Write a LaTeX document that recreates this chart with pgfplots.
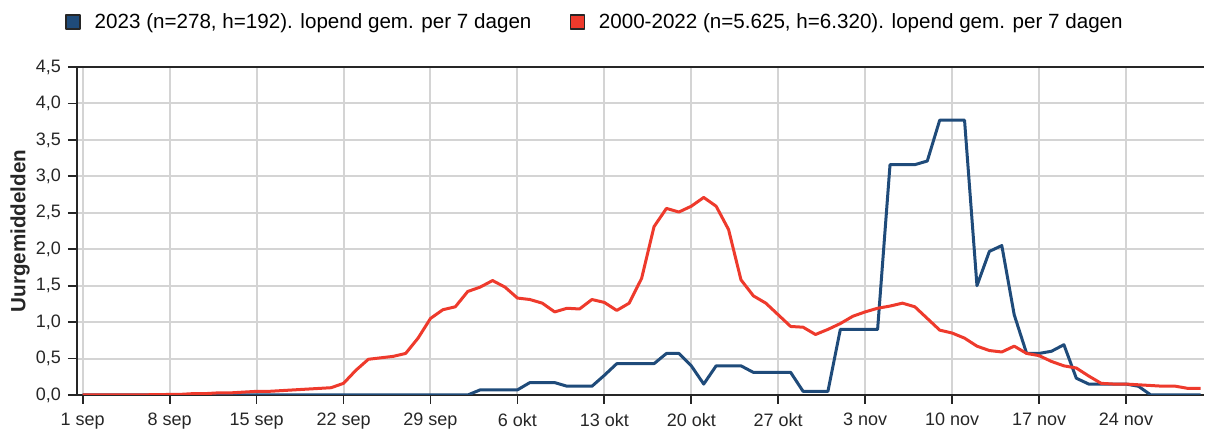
\documentclass[border=0pt]{standalone}
\usepackage{pgfplots}
\pgfplotsset{compat=1.18}
\usepackage{fontspec}
\setmainfont{Liberation Sans}
\definecolor{lijn23}{HTML}{1F4B7A}
\definecolor{lijn00}{HTML}{EE3A2C}
\definecolor{raster}{HTML}{D4D4D4}
\definecolor{tekst}{HTML}{262626}

% dag 0 = 1 sep
\pgfplotstableread{
d v
0 0
31 0
32 0.07
35 0.07
36 0.17
38 0.17
39 0.12
41 0.12
42 0.27
43 0.43
46 0.43
47 0.57
48 0.57
49 0.40
50 0.15
51 0.40
53 0.40
54 0.31
57 0.31
58 0.05
60 0.05
61 0.90
64 0.90
65 3.16
67 3.16
68 3.21
69 3.77
71 3.77
72 1.50
73 1.97
74 2.05
75 1.10
76 0.57
77 0.57
78 0.60
79 0.69
80 0.23
81 0.15
84 0.15
85 0.12
86 0.00
90 0.00
}\jaar

\pgfplotstableread{
d v
0 0.00
4 0.00
8 0.01
9 0.02
10 0.02
11 0.03
12 0.03
13 0.04
14 0.05
15 0.05
16 0.06
17 0.07
18 0.08
19 0.09
20 0.10
21 0.16
22 0.34
23 0.49
24 0.51
25 0.53
26 0.57
27 0.78
28 1.05
29 1.17
30 1.21
31 1.42
32 1.48
33 1.57
34 1.48
35 1.33
36 1.31
37 1.26
38 1.14
39 1.19
40 1.18
41 1.31
42 1.27
43 1.16
44 1.26
45 1.60
46 2.31
47 2.56
48 2.51
49 2.59
50 2.71
51 2.59
52 2.27
53 1.58
54 1.36
55 1.26
56 1.10
57 0.94
58 0.93
59 0.83
60 0.90
61 0.98
62 1.08
63 1.14
64 1.19
65 1.22
66 1.26
67 1.21
68 1.05
69 0.89
70 0.85
71 0.78
72 0.67
73 0.61
74 0.59
75 0.67
76 0.57
77 0.54
78 0.46
79 0.40
80 0.37
81 0.26
82 0.16
83 0.15
84 0.15
85 0.14
86 0.13
87 0.12
88 0.12
89 0.09
90 0.09
}\gemiddeld

\begin{document}
\begin{tikzpicture}
\begin{axis}[
  name=ax,
  scale only axis,
  width=563.5pt, height=164pt,
  font=\fontsize{9}{11}\selectfont,
  xmin=-0.46, xmax=90.28,
  ymin=0, ymax=4.5,
  axis x line=box,
  axis y line*=left,
  axis line style={tekst, line width=1pt},
  xtick pos=lower, ytick pos=left,
  tick align=outside,
  major tick length=4.5pt,
  tick style={tekst, line width=0.9pt},
  xtick={0,7,...,84},
  xticklabels={1 sep,8 sep,15 sep,22 sep,29 sep,6 okt,13 okt,20 okt,27 okt,3 nov,10 nov,17 nov,24 nov},
  ytick={0,0.5,...,4.5},
  yticklabel style={/pgf/number format/.cd, fixed, fixed zerofill, precision=1, use comma, assume math mode=true},
  ticklabel style={tekst},
  xticklabel style={yshift=-1pt},
  grid=major,
  grid style={raster, line width=1pt},
  ylabel={\bfseries Uurgemiddelden},
  ylabel style={at={(axis description cs:-0.0506,0.5)}, anchor=center, tekst,
    font=\fontsize{10.3}{12}\selectfont},
  legend columns=2,
  legend style={
    at={(axis description cs:-0.0107,1.137)}, anchor=west,
    draw=none, fill=none, inner sep=0pt,
    font=\fontsize{10.3}{12}\selectfont,
    /tikz/every odd column/.append style={column sep=5pt},
    /tikz/every even column/.append style={column sep=17pt},
  },
  legend cell align=left,
]
\addplot[lijn23, line width=1.5pt, line join=round,
  legend image code/.code={\draw[fill=lijn23, draw=tekst, line width=0.7pt] (0pt,-3.5pt) rectangle (7pt,3.5pt);}]
  table[x=d, y=v] {\jaar};
\addlegendentry{2023 (n=278, h=192). lopend gem. per 7 dagen}
\addplot[lijn00, line width=1.5pt, line join=round,
  legend image code/.code={\draw[fill=lijn00, draw=tekst, line width=0.7pt] (0pt,-3.5pt) rectangle (7pt,3.5pt);}]
  table[x=d, y=v] {\gemiddeld};
\addlegendentry{2000-2022 (n=5.625, h=6.320). lopend gem. per 7 dagen}
\end{axis}
\path (ax.south west) ++(-38.5pt,-20.5pt) rectangle ++(602.5pt,218pt);
\end{tikzpicture}
\end{document}
